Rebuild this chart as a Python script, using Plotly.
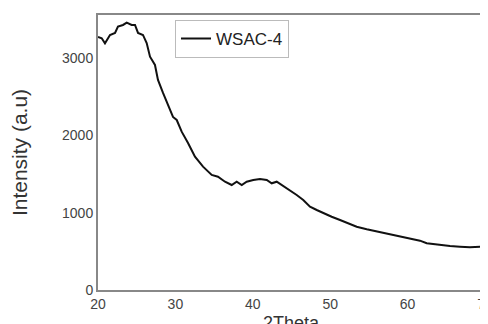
import plotly.graph_objects as go

two_theta = [20.0, 20.48, 20.9, 21.55, 22.2, 22.58, 23.23, 23.71, 24.35, 24.78, 25.17, 25.81,
             26.29, 26.72, 27.36, 27.75, 28.4, 29.04, 29.69, 30.17, 30.81, 31.63, 32.53,
             33.57, 34.69, 35.5, 36.41, 37.27, 37.92, 38.57, 39.21, 40.06, 40.93, 41.8,
             42.44, 43.09, 43.94, 44.81, 45.67, 46.52, 47.39, 48.26, 49.11, 50.19, 51.27,
             52.34, 53.42, 54.72, 55.14, 56.43, 57.73, 59.02, 60.31, 61.6, 62.47, 64.19,
             65.48, 66.77, 68.06, 69.78, 70.0]
intensity = [3273, 3256, 3191, 3299, 3325, 3406, 3428, 3458, 3428, 3428, 3325, 3299,
             3195, 3018, 2911, 2717, 2549, 2393, 2238, 2199, 2048, 1902, 1724,
             1595, 1488, 1466, 1401, 1358, 1401, 1358, 1401, 1423, 1436, 1423,
             1380, 1401, 1345, 1294, 1229, 1164, 1078, 1035, 992, 948, 906,
             863, 819, 785, 776, 741, 712, 690, 656, 638, 604, 582,
             569, 560, 552, 560, 555]

y_tickvals = [0, 1000, 2000, 3000, 3557]
y_ticktext = ["0", "1000", "2000", "3000", "0"]
x_tickvals = [20, 30, 40, 50, 60, 70]

fig = go.Figure()
fig.add_trace(go.Scatter(x=two_theta, y=intensity, mode="lines", name="WSAC-4",
                         line=dict(color="#111111", width=2)))

fig.add_annotation(text="2Theta", xref="paper", yref="paper", x=0.5, y=0,
                   xanchor="center", yanchor="top", yshift=-21, showarrow=False,
                   font=dict(size=18, color="#333333"))

fig.update_layout(
    width=480, height=316,
    margin=dict(l=90, r=3, t=7, b=34),
    paper_bgcolor="white", plot_bgcolor="white",
    font=dict(family="Liberation Sans, Arial", color="#333333"),
    showlegend=True,
    legend=dict(x=0.199, y=0.982, xanchor="left", yanchor="top",
                bordercolor="#bbbbbb", borderwidth=1, bgcolor="white",
                font=dict(size=17, color="#222222")),
    xaxis=dict(range=[20, 70], tickvals=x_tickvals, ticks="", showgrid=False,
               zeroline=False, showline=True, linecolor="#888888", linewidth=2,
               mirror=True, automargin=False, ticklabeloverflow="allow",
               tickfont=dict(size=14, color="#444444")),
    yaxis=dict(range=[0, 3557], tickvals=y_tickvals, ticktext=y_ticktext, ticks="",
               showgrid=False, zeroline=False, showline=True, linecolor="#888888",
               linewidth=2, mirror=True, automargin=False,
               tickfont=dict(size=14, color="#444444"),
               title=dict(text="Intensity (a.u)", standoff=30,
                          font=dict(size=21, color="#333333"))),
)

fig.write_html("out.html")
